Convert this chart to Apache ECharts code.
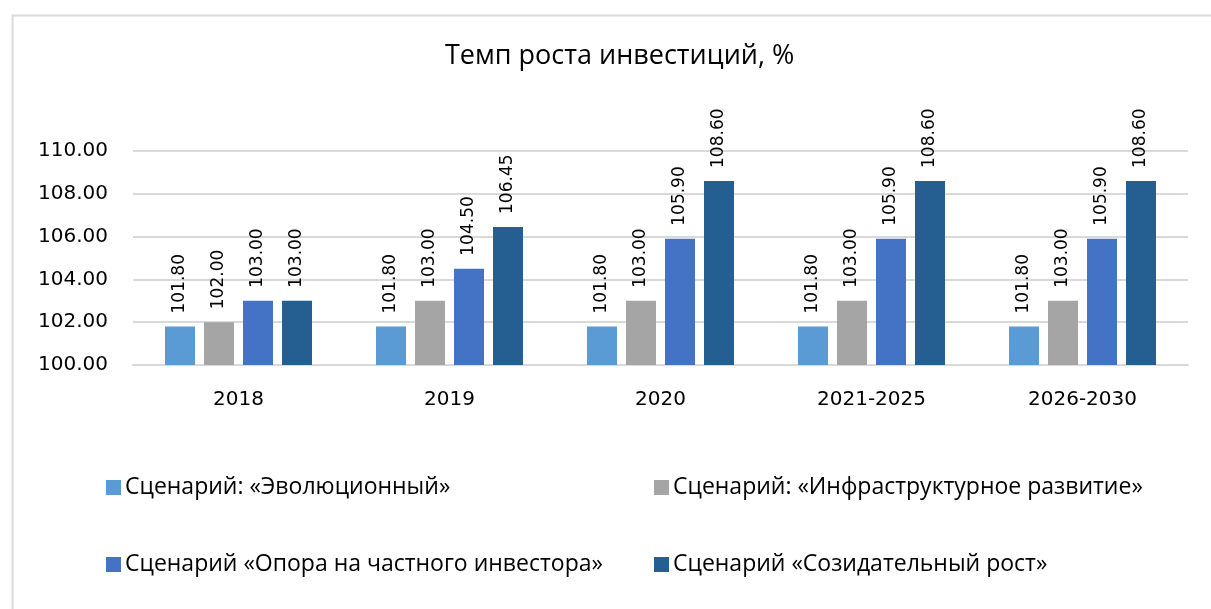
<!DOCTYPE html>
<html>
<head>
<meta charset="utf-8">
<script src="https://cdn.jsdelivr.net/npm/echarts@6/dist/echarts.min.js"></script>
<style>
  html, body { margin: 0; padding: 0; background: #fff; }
  #chart { width: 1211px; height: 609px; }
</style>
</head>
<body>
<div id="chart"></div>
<script>
// Investment growth rate by scenario, %
const categories = ['2018', '2019', '2020', '2021-2025', '2026-2030'];
const seriesNames = [
  'Сценарий: «Эволюционный»',
  'Сценарий: «Инфраструктурное развитие»',
  'Сценарий «Опора на частного инвестора»',
  'Сценарий «Созидательный рост»'
];
const evolutionary   = [101.80, 101.80, 101.80, 101.80, 101.80];
const infrastructure = [102.00, 103.00, 103.00, 103.00, 103.00];
const privateInvestor = [103.00, 104.50, 105.90, 105.90, 105.90];
const creativeGrowth = [103.00, 106.45, 108.60, 108.60, 108.60];
const colors = ['#5B9BD5', '#A5A5A5', '#4472C4', '#255E91'];

const values = [evolutionary, infrastructure, privateInvestor, creativeGrowth];
const numFont = 'DejaVu Sans';
const textFont = 'Open Sans';

const chart = echarts.init(document.getElementById('chart'), null, { renderer: 'canvas' });

const series = values.map((data, i) => ({
  name: seriesNames[i],
  type: 'bar',
  data: data,
  barWidth: 30,
  barGap: '30%',
  itemStyle: { color: colors[i] },
  label: {
    show: true,
    position: 'top',
    rotate: 90,
    align: 'left',
    verticalAlign: 'middle',
    distance: 13,
    fontFamily: numFont,
    fontSize: 17,
    color: '#000',
    formatter: p => p.value.toFixed(2)
  }
}));

// one legend block per scenario, laid out in two rows
const legendPos = [
  { left: 101, top: 471 },
  { left: 649, top: 471 },
  { left: 101, top: 548 },
  { left: 649, top: 548 }
];
const legends = seriesNames.map((n, i) => ({
  data: [n],
  left: legendPos[i].left,
  top: legendPos[i].top,
  itemWidth: 15,
  itemHeight: 15,
  itemGap: 0,
  icon: 'rect',
  selectedMode: false,
  textStyle: { fontFamily: textFont, fontSize: 23, color: '#000', padding: [0, 0, 0, -1] }
}));

chart.setOption({
  animation: false,
  backgroundColor: '#fff',
  title: {
    text: 'Темп роста инвестиций, %',
    left: 440,
    top: 38,
    textStyle: { fontFamily: textFont, fontSize: 27, fontWeight: 'normal', color: '#000' }
  },
  graphic: [{
    type: 'rect',
    shape: { x: 12.5, y: 15.5, width: 1300, height: 700 },
    style: { fill: 'none', stroke: '#D9D9D9', lineWidth: 2 },
    silent: true,
    z: -10
  }],
  legend: legends,
  grid: { left: 133, right: 23, top: 151, bottom: 244, containLabel: false },
  xAxis: {
    type: 'category',
    data: categories,
    axisLine: { lineStyle: { color: '#D9D9D9', width: 2 } },
    axisTick: { show: false },
    axisLabel: { fontFamily: numFont, fontSize: 20, color: '#000', margin: 25 }
  },
  yAxis: {
    type: 'value',
    min: 100,
    max: 110,
    interval: 2,
    axisLine: { show: false },
    axisTick: { show: false },
    splitLine: { lineStyle: { color: '#D9D9D9', width: 2 } },
    axisLabel: {
      fontFamily: numFont, fontSize: 20, color: '#000', margin: 25,
      formatter: v => v.toFixed(2)
    }
  },
  series: series
});
</script>
</body>
</html>
